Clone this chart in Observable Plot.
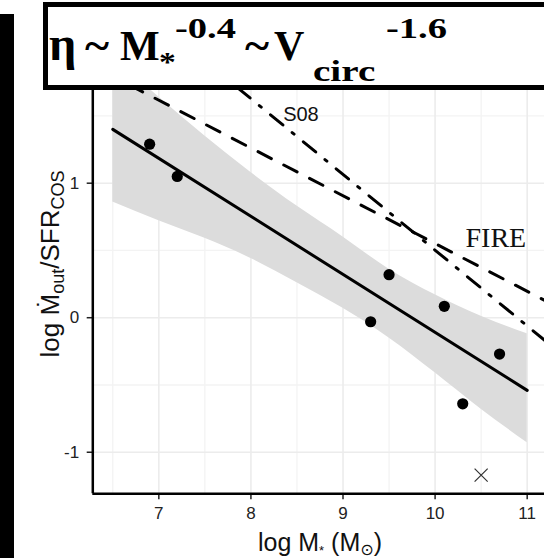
<!DOCTYPE html>
<html><head><meta charset="utf-8">
<script src="https://cdn.jsdelivr.net/npm/d3@7"></script>
<script src="https://cdn.jsdelivr.net/npm/@observablehq/plot@0.6"></script>
<style>
html,body{margin:0;padding:0;background:#fff;}
#wrap{position:relative;width:544px;height:558px;overflow:hidden;background:#fff;}
#wrap svg{position:absolute;left:0;top:0;}
</style></head><body><div id="wrap"></div>
<script>
// ---- data ----
const galaxyLogMass = [6.9, 7.2, 9.3, 9.5, 10.1, 10.3, 10.7];
const galaxyLogEta  = [1.29, 1.05, -0.03, 0.32, 0.085, -0.64, -0.27];
const limitLogMass = [10.5];
const limitLogEta  = [-1.17];
const fitLogMass = [6.5, 11.0];
const fitLogEta  = [1.40, -0.54];
const bandLogMass = [6.5, 7, 7.5, 8, 8.5, 9, 9.5, 10, 10.5, 11];
const bandHigh    = [1.94, 1.64, 1.35, 1.08, 0.83, 0.60, 0.36, 0.17, 0.01, -0.12];
const bandLow     = [0.86, 0.72, 0.59, 0.44, 0.26, 0.07, -0.15, -0.41, -0.68, -0.93];
const fireLogMass = [6.4, 11.3];
const fireLogEta  = [1.83, 0.09];
const s08LogMass = [7.5, 11.3];
const s08LogEta  = [1.91, -0.23];
const modelNames = ["S08", "FIRE"];
const modelLabelMass = [8.35, 10.33];
const modelLabelEta  = [1.51, 0.593];
const xTicks = [7, 8, 9, 10, 11];
const yTicks = [-1, 0, 1];
const yGrid = [-1, 0, 1, 2];
const xMinor = [6.5, 7.5, 8.5, 9.5, 10.5];
const yMinor = [-0.5, 0.5, 1.5];
const xDomain = [6.283, 11.188];
const yDomain = [-1.309, 2.098];

// ---- tables ----
const points = galaxyLogMass.map((x, i) => ({x, y: galaxyLogEta[i]}));
const limits = limitLogMass.map((x, i) => ({x, y: limitLogEta[i]}));
const fit = fitLogMass.map((x, i) => ({x, y: fitLogEta[i]}));
const band = bandLogMass.map((x, i) => ({x, lo: bandLow[i], hi: bandHigh[i]}));
const fire = fireLogMass.map((x, i) => ({x, y: fireLogEta[i]}));
const s08 = s08LogMass.map((x, i) => ({x, y: s08LogEta[i]}));
const lab = modelNames.map((t, i) => ({t, x: modelLabelMass[i], y: modelLabelEta[i]}));

const chart = Plot.plot({
  width: 544, height: 558,
  marginLeft: 92.3, marginRight: 0, marginTop: 35, marginBottom: 64.7,
  x: {domain: xDomain},
  y: {domain: yDomain},
  style: {fontFamily: "'Liberation Sans', Arial, sans-serif", fontSize: "17px", color: "#222", background: "transparent", overflow: "visible"},
  marks: [
    Plot.ruleX(xMinor, {stroke: "#f3f3f3", strokeWidth: 1.3}),
    Plot.ruleY(yMinor, {stroke: "#f3f3f3", strokeWidth: 1.3}),
    Plot.ruleX(xTicks, {stroke: "#ececec", strokeWidth: 1.6}),
    Plot.ruleY(yGrid, {stroke: "#ececec", strokeWidth: 1.6}),
    Plot.areaY(band, {x: "x", y1: "lo", y2: "hi", fill: "#dcdcdc", curve: "natural", clip: true}),
    Plot.line(fire, {x: "x", y: "y", stroke: "black", strokeWidth: 3, strokeDasharray: "15,14", clip: true}),
    Plot.line(s08, {x: "x", y: "y", stroke: "black", strokeWidth: 3, strokeDasharray: "16,12,2.5,12", clip: true}),
    Plot.line(fit, {x: "x", y: "y", stroke: "black", strokeWidth: 3}),
    Plot.dot(points, {x: "x", y: "y", r: 5.6, fill: "black"}),
    Plot.dot(limits, {x: "x", y: "y", symbol: "times", r: 6, stroke: "#333", strokeWidth: 1.2}),
    Plot.text(lab.slice(0, 1), {x: "x", y: "y", text: "t", textAnchor: "start", lineAnchor: "middle", fontSize: 20, fill: "#111"}),
    Plot.text(lab.slice(1), {x: "x", y: "y", text: "t", textAnchor: "start", lineAnchor: "middle", fontSize: 28, fontFamily: "'Liberation Serif', 'Times New Roman', serif", fill: "#111"}),
    Plot.axisX({ticks: xTicks, tickFormat: d => String(d), tickSize: 6, tickPadding: 7, label: null, strokeWidth: 1.5}),
    Plot.axisY({ticks: yTicks, tickFormat: d => String(d), tickSize: 5.6, tickPadding: 8, label: null, strokeWidth: 1.5}),
    Plot.ruleX([xDomain[0]], {stroke: "black", strokeWidth: 2.5}),
    Plot.ruleY([yDomain[0]], {stroke: "black", strokeWidth: 2.5})
  ]
});
const wrap = document.getElementById("wrap");
wrap.appendChild(chart);

// ---- overlay: axis titles, frame decorations and boxed title ----
const ov = d3.select(wrap).append("svg").attr("width", 544).attr("height", 558)
  .attr("viewBox", "0 0 544 558").style("pointer-events", "none");

const sans = "'Liberation Sans', Arial, 'DejaVu Sans', sans-serif";
// x title
const xt = ov.append("text").attr("x", 320).attr("y", 551).attr("text-anchor", "middle")
  .attr("font-family", sans).attr("font-size", 25).attr("fill", "#111");
xt.append("tspan").text("log M");
xt.append("tspan").attr("font-size", 13).attr("dy", 4).text("*");
xt.append("tspan").attr("dy", -4).text(" (M");
xt.append("tspan").attr("font-size", 16).attr("dy", 4).attr("font-family", "'DejaVu Sans', sans-serif").text("⊙");
xt.append("tspan").attr("dy", -4).text(")");

// y title
const yt = ov.append("text").attr("transform", "translate(59,264) rotate(-90)").attr("text-anchor", "middle")
  .attr("font-family", sans).attr("font-size", 26).attr("fill", "#111");
yt.append("tspan").text("log Ṁ");
yt.append("tspan").attr("font-size", 18).attr("dy", 5).text("out");
yt.append("tspan").attr("dy", -5).text("/SFR");
yt.append("tspan").attr("font-size", 18).attr("dy", 5).text("COS");

// black bar on the left
ov.append("rect").attr("x", 0).attr("y", 14).attr("width", 14).attr("height", 560).attr("fill", "black");
// title box
ov.append("rect").attr("x", 45.5).attr("y", 4.5).attr("width", 540).attr("height", 83)
  .attr("fill", "white").attr("stroke", "black").attr("stroke-width", 5);

const serif = "'Liberation Serif', 'Times New Roman', serif";
const pieces = [
  {t: "η", x: 49, y: 60, s: 48, k: 1},
  {t: "~", x: 85, y: 60, s: 42, k: 1.1},
  {t: "M", x: 120, y: 60, s: 42, k: 1},
  {t: "*", x: 159, y: 71, s: 28, k: 1.2},
  {t: "-0.4", x: 175, y: 38, s: 29, k: 1.33},
  {t: "~", x: 245, y: 60, s: 42, k: 1.1},
  {t: "V", x: 274, y: 60, s: 42, k: 1},
  {t: "circ", x: 313, y: 81, s: 29, k: 1.35},
  {t: "-1.6", x: 386, y: 38, s: 29, k: 1.33}
];
for (const p of pieces) {
  ov.append("text").attr("transform", `translate(${p.x},${p.y}) scale(${p.k},1)`)
    .attr("font-family", serif).attr("font-weight", "bold").attr("font-size", p.s)
    .attr("fill", "black").text(p.t);
}
</script>
</body></html>
